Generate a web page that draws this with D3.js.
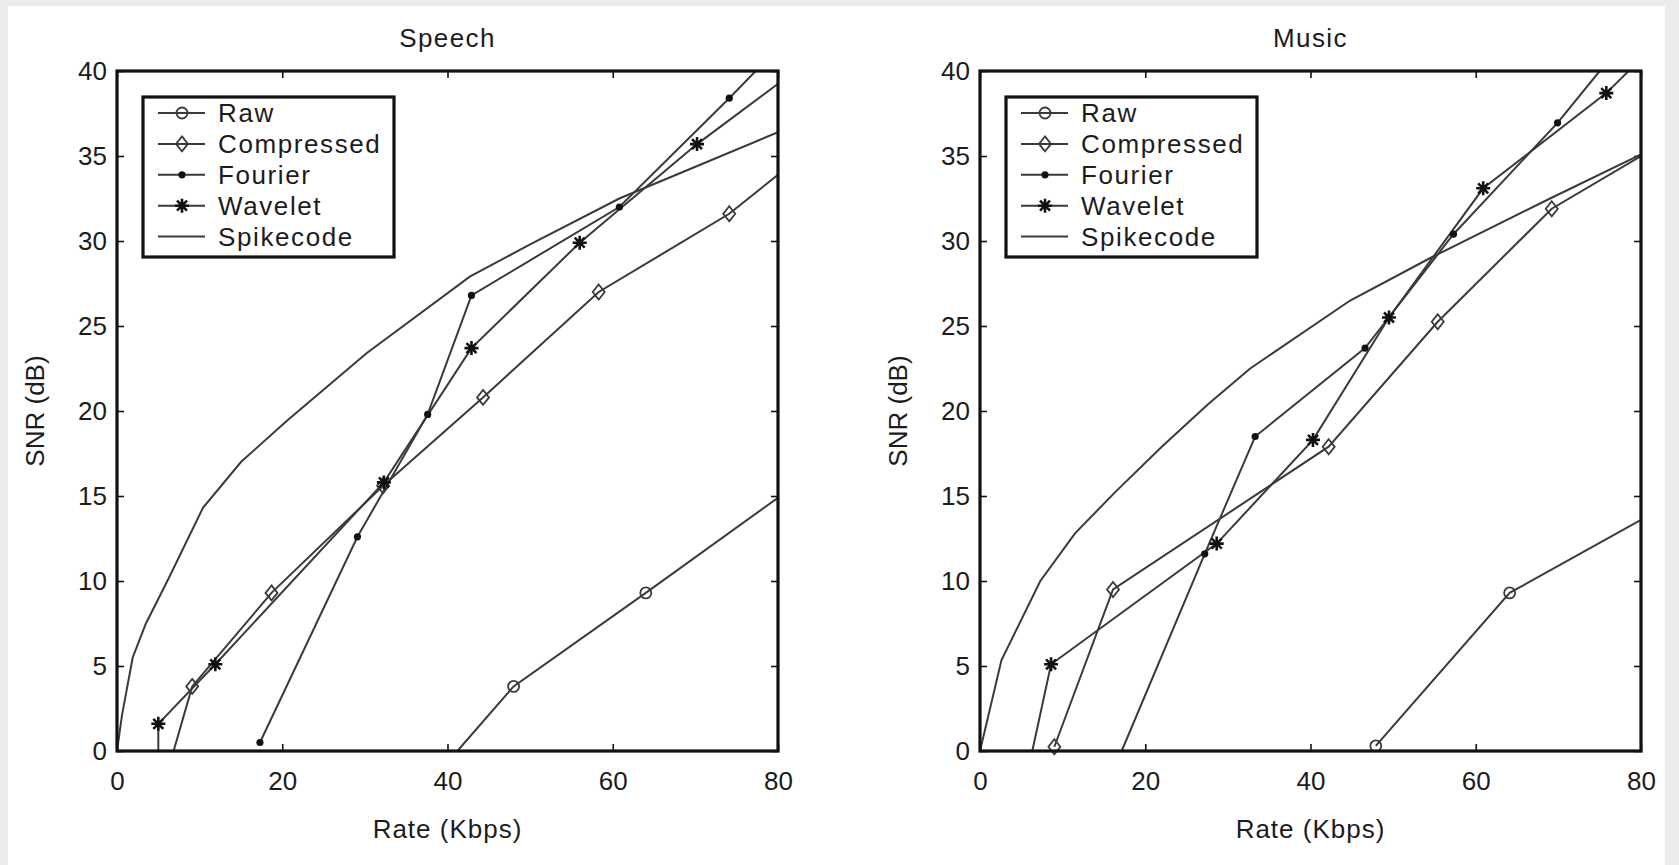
<!DOCTYPE html>
<html>
<head>
<meta charset="utf-8">
<script src="https://cdn.jsdelivr.net/npm/d3@7"></script>
<style>
  html, body { margin: 0; padding: 0; background: #ececec; }
  svg { display: block; }
  text { font-family: "Liberation Sans", Arial, Helvetica, sans-serif; fill: #1c1c1c; }
</style>
</head>
<body>
<svg id="fig" width="1679" height="865"></svg>
<script>
// ---- data: [rate (Kbps), SNR (dB)] per coder ----
const rateTicks = [0, 20, 40, 60, 80];
const snrTicks = [0, 5, 10, 15, 20, 25, 30, 35, 40];
const seriesNames = ["Raw", "Compressed", "Fourier", "Wavelet", "Spikecode"];

const speechRaw = [[41.2, 0], [48.0, 3.8], [64.0, 9.3], [80, 14.9]];
const speechCompressed = [[6.85, 0], [9.1, 3.8], [18.7, 9.3], [32.2, 15.6], [44.3, 20.8], [58.3, 27.0], [74.1, 31.6], [80, 33.9]];
const speechFourier = [[17.3, 0.5], [29.1, 12.6], [37.6, 19.8], [42.9, 26.8], [60.8, 32.0], [74.1, 38.4], [77.3, 40]];
const speechWavelet = [[5.0, 0], [5.0, 1.6], [11.9, 5.1], [32.3, 15.8], [42.9, 23.7], [56.0, 29.9], [70.2, 35.7], [80, 39.25]];
const speechSpikecode = [[0, 0], [0.6, 2.1], [1.9, 5.5], [3.5, 7.5], [6.2, 10.1], [10.4, 14.3], [15, 17.0], [20.5, 19.4], [30.2, 23.4], [42.7, 27.9], [50, 29.8], [60.8, 32.5], [80, 36.4]];

const musicRaw = [[47.9, 0.3], [64.1, 9.3], [80, 13.6]];
const musicCompressed = [[9.0, 0.25], [16.1, 9.5], [42.2, 17.9], [55.4, 25.25], [69.2, 31.9], [80, 35.0]];
const musicFourier = [[17.15, 0], [27.2, 11.6], [33.3, 18.5], [46.6, 23.7], [57.3, 30.4], [69.9, 36.95], [75.0, 40]];
const musicWavelet = [[6.33, 0], [8.6, 5.1], [28.65, 12.2], [40.3, 18.3], [49.5, 25.5], [60.9, 33.1], [75.8, 38.7], [78.5, 40]];
const musicSpikecode = [[0, 0], [2.6, 5.35], [7.3, 10.0], [11.5, 12.8], [16.3, 15.2], [22, 17.9], [27.6, 20.4], [32.7, 22.5], [44.8, 26.5], [54.5, 29.0], [69, 32.5], [80, 35.1]];

const panels = [
  { title: "Speech", left: 117, series: [speechRaw, speechCompressed, speechFourier, speechWavelet, speechSpikecode] },
  { title: "Music", left: 980, series: [musicRaw, musicCompressed, musicFourier, musicWavelet, musicSpikecode] }
];

// ---- layout ----
const plotW = 661, plotTop = 71, plotBottom = 751;
const lineColor = "#3a3a3a";
const fontSize = 26;

const svg = d3.select("#fig");
svg.append("rect").attr("width", 1679).attr("height", 865).attr("fill", "#ececec");
svg.append("rect").attr("x", 8).attr("y", 6).attr("width", 1657).attr("height", 865).attr("fill", "#ffffff");

// marker shapes, one per coder
const markerKinds = ["circle", "diamond", "dot", "asterisk", "none"];
function drawMarker(g, kind, cx, cy) {
  const m = g.append("g").attr("transform", `translate(${cx},${cy})`);
  if (kind === "circle") {
    m.append("circle").attr("r", 5.5).attr("fill", "none").attr("stroke", lineColor).attr("stroke-width", 1.8);
  } else if (kind === "diamond") {
    m.append("path").attr("d", "M0,-7.5L6,0L0,7.5L-6,0Z").attr("fill", "none").attr("stroke", lineColor).attr("stroke-width", 1.8);
  } else if (kind === "dot") {
    m.append("circle").attr("r", 3.6).attr("fill", "#111");
  } else if (kind === "asterisk") {
    const r = 7, d = 5;
    m.append("path")
      .attr("d", `M${-r},0L${r},0M0,${-r}L0,${r}M${-d},${-d}L${d},${d}M${-d},${d}L${d},${-d}`)
      .attr("stroke", "#111").attr("stroke-width", 2.6).attr("fill", "none");
  }
}

panels.forEach((p, pi) => {
  const x = d3.scaleLinear().domain([0, 80]).range([p.left, p.left + plotW]);
  const y = d3.scaleLinear().domain([0, 40]).range([plotBottom, plotTop]);
  const g = svg.append("g");

  const clipId = "clip" + pi;
  svg.append("clipPath").attr("id", clipId)
    .append("rect").attr("x", p.left).attr("y", plotTop).attr("width", plotW).attr("height", plotBottom - plotTop);

  // inward ticks on all four sides
  const axisFont = sel => {
    sel.select(".domain").remove();
    sel.selectAll(".tick line").attr("stroke", "#111").attr("stroke-width", 1.6);
    sel.selectAll("text").attr("font-size", fontSize).attr("fill", "#1c1c1c")
      .attr("font-family", '"Liberation Sans", Arial, sans-serif');
  };
  g.append("g").attr("transform", `translate(${p.left},0)`)
    .call(d3.axisLeft(y).tickValues(snrTicks).tickSize(-7).tickPadding(10)).call(axisFont);
  g.append("g").attr("transform", `translate(0,${plotBottom})`)
    .call(d3.axisBottom(x).tickValues(rateTicks).tickSize(-7).tickPadding(21)).call(axisFont);
  g.append("g").attr("transform", `translate(${p.left + plotW},0)`)
    .call(d3.axisRight(y).tickValues(snrTicks).tickSize(-7).tickFormat("")).call(axisFont);
  g.append("g").attr("transform", `translate(0,${plotTop})`)
    .call(d3.axisTop(x).tickValues(rateTicks).tickSize(-7).tickFormat("")).call(axisFont);

  // series lines
  const line = d3.line().x(d => x(d[0])).y(d => y(d[1]));
  const data = g.append("g").attr("clip-path", `url(#${clipId})`);
  p.series.forEach(s => {
    data.append("path").datum(s).attr("d", line)
      .attr("fill", "none").attr("stroke", lineColor).attr("stroke-width", 2);
  });
  // markers at measured points (points lying on the frame are where a trace leaves the axes)
  const inside = d => d[0] > 0 && d[0] < 80 && d[1] > 0 && d[1] < 40;
  p.series.forEach((s, si) => {
    if (markerKinds[si] === "none") return;
    s.filter(inside).forEach(d => drawMarker(g, markerKinds[si], x(d[0]), y(d[1])));
  });

  // frame
  g.append("rect").attr("x", p.left).attr("y", plotTop).attr("width", plotW).attr("height", plotBottom - plotTop)
    .attr("fill", "none").attr("stroke", "#111").attr("stroke-width", 3.2);

  // titles and axis labels
  const cx = p.left + plotW / 2;
  g.append("text").attr("x", cx).attr("y", 47).attr("text-anchor", "middle").attr("font-size", fontSize)
    .attr("letter-spacing", 1.4).text(p.title);
  g.append("text").attr("x", cx).attr("y", 838).attr("text-anchor", "middle").attr("font-size", fontSize)
    .attr("letter-spacing", 1).text("Rate (Kbps)");
  g.append("text").attr("transform", `translate(${p.left - 82},${(plotTop + plotBottom) / 2}) rotate(-90)`)
    .attr("text-anchor", "middle").attr("dy", "0.35em").attr("font-size", fontSize).text("SNR (dB)");

  // legend
  const lx = p.left + 26, ly = 97, lw = 251, lh = 160, rowH = 30.9;
  const lg = g.append("g");
  lg.append("rect").attr("x", lx).attr("y", ly).attr("width", lw).attr("height", lh)
    .attr("fill", "#fff").attr("stroke", "#111").attr("stroke-width", 3.2);
  seriesNames.forEach((name, i) => {
    const ry = ly + 16 + i * rowH;
    lg.append("line").attr("x1", lx + 15).attr("x2", lx + 62).attr("y1", ry).attr("y2", ry)
      .attr("stroke", lineColor).attr("stroke-width", 2);
    if (markerKinds[i] !== "none") drawMarker(lg, markerKinds[i], lx + 39, ry);
    lg.append("text").attr("x", lx + 75).attr("y", ry).attr("dy", "0.35em")
      .attr("font-size", fontSize).attr("letter-spacing", 1.6).text(name);
  });
});
</script>
</body>
</html>
